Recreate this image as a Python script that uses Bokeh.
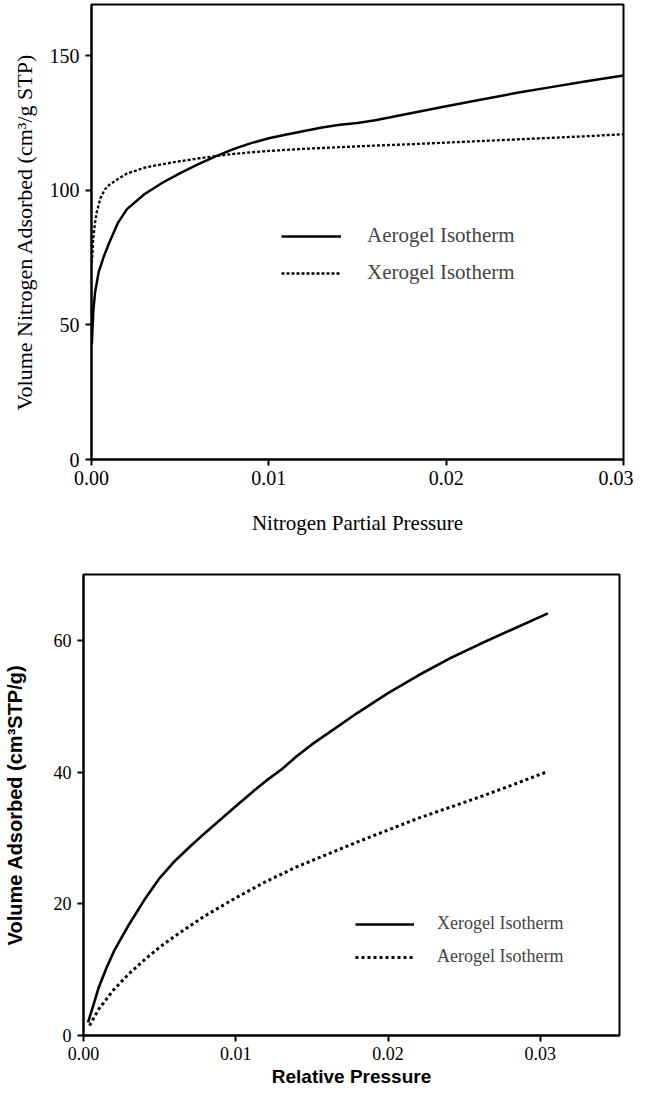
from bokeh.plotting import figure
from bokeh.models import Range1d, FixedTicker, PrintfTickFormatter, Legend, LegendItem, Title
from bokeh.embed import file_html
from bokeh.resources import INLINE

# ---------------- Top chart data ----------------
top_aerogel_p = [0.00002, 0.0001, 0.0002, 0.0004, 0.0007, 0.001, 0.0015, 0.002, 0.003,
                 0.004, 0.005, 0.006, 0.007, 0.008, 0.009, 0.010, 0.011, 0.012, 0.013,
                 0.014, 0.015, 0.016, 0.018, 0.020, 0.022, 0.024, 0.026, 0.028, 0.030]
top_aerogel_v = [43, 55, 62, 69.5, 75.5, 80.5, 88, 93, 98.6,
                 102.8, 106.4, 109.6, 112.6, 115.3, 117.5, 119.3, 120.7, 122.0, 123.3,
                 124.3, 125.0, 126.0, 128.6, 131.2, 133.7, 136.2, 138.4, 140.6, 142.6]
top_xerogel_p = [0.00002, 0.0001, 0.0002, 0.0003, 0.0005, 0.00075, 0.001, 0.0015, 0.002,
                 0.003, 0.004, 0.005, 0.006, 0.007, 0.008, 0.009, 0.010, 0.012, 0.014,
                 0.016, 0.018, 0.020, 0.022, 0.024, 0.026, 0.028, 0.030]
top_xerogel_v = [73, 82, 88, 92, 97, 100.3, 102, 104.2, 106.2,
                 108.4, 109.7, 110.8, 111.8, 112.7, 113.5, 114.1, 114.6, 115.4, 116.0,
                 116.6, 117.1, 117.7, 118.3, 118.9, 119.5, 120.1, 120.8]
top_x_ticks = [0.0, 0.01, 0.02, 0.03]
top_y_ticks = [0, 50, 100, 150]
top_labels = ["Aerogel Isotherm", "Xerogel Isotherm"]
top_x_title = "Nitrogen Partial Pressure"
top_y_title = "Volume Nitrogen Adsorbed (cm³/g STP)"

# ---------------- Bottom chart data ----------------
bot_xerogel_p = [0.0003, 0.0007, 0.001, 0.0015, 0.002, 0.003, 0.004, 0.005, 0.006, 0.007,
                 0.008, 0.009, 0.010, 0.011, 0.012, 0.013, 0.014, 0.015, 0.016, 0.018,
                 0.020, 0.022, 0.024, 0.026, 0.028, 0.0305]
bot_xerogel_v = [2.0, 5.0, 7.3, 10.2, 12.8, 16.9, 20.6, 23.9, 26.5, 28.7,
                 30.8, 32.8, 34.8, 36.8, 38.7, 40.4, 42.4, 44.2, 45.8, 49.0,
                 52.0, 54.7, 57.2, 59.4, 61.5, 64.1]
bot_aerogel_p = [0.0004, 0.001, 0.002, 0.003, 0.004, 0.005, 0.006, 0.008, 0.010, 0.012,
                 0.014, 0.016, 0.018, 0.020, 0.022, 0.024, 0.026, 0.028, 0.0305]
bot_aerogel_v = [1.5, 4.0, 7.0, 9.4, 11.5, 13.4, 15.1, 18.2, 20.9, 23.4,
                 25.6, 27.5, 29.4, 31.2, 33.0, 34.6, 36.2, 37.9, 40.1]
bot_x_ticks = [0.0, 0.01, 0.02, 0.03]
bot_y_ticks = [0, 20, 40, 60]
bot_labels = ["Xerogel Isotherm", "Aerogel Isotherm"]
bot_x_title = "Relative Pressure"
bot_y_title = "Volume Adsorbed (cm³STP/g)"

SERIF = "Liberation Serif"
SANS = "Liberation Sans"


def style_axes(p, tick_size, label_font, label_size, label_style):
    for ax in (p.xaxis[0], p.yaxis[0]):
        ax.axis_line_width = 2
        ax.axis_line_color = "black"
        ax.major_tick_line_width = 2
        ax.major_tick_line_color = "black"
        ax.major_tick_out = 6
        ax.major_tick_in = 0
        ax.minor_tick_line_color = None
        ax.major_label_text_font = SERIF
        ax.major_label_text_font_size = tick_size
        ax.major_label_text_color = "black"
        ax.axis_label_text_font = label_font
        ax.axis_label_text_font_size = label_size
        ax.axis_label_text_font_style = label_style
        ax.axis_label_text_color = "black"
    p.grid.visible = False
    p.outline_line_color = "black"
    p.outline_line_width = 2
    p.outline_line_alpha = 1
    p.background_fill_color = "white"
    p.border_fill_color = "white"


# ---------------- Top figure ----------------
p1 = figure(width=633, height=552, output_backend="svg", toolbar_location=None,
            x_range=Range1d(0, 0.03), y_range=Range1d(0, 169),
            min_border_left=87, min_border_right=10, min_border_top=4, min_border_bottom=93,
            x_axis_label=top_x_title)
style_axes(p1, "20px", SERIF, "21px", "normal")
p1.xaxis.ticker = FixedTicker(ticks=top_x_ticks)
p1.xaxis.formatter = PrintfTickFormatter(format="%.2f")
p1.yaxis.ticker = FixedTicker(ticks=top_y_ticks)
p1.xaxis.major_label_standoff = 5
p1.xaxis.axis_label_standoff = 23
p1.yaxis.major_label_standoff = 6

# y-axis title placed on the left, shifted upward like the original
ytitle = Title(text=top_y_title, align="center", offset=31, standoff=19,
               text_font=SERIF, text_font_size="22px", text_font_style="normal",
               text_color="black")
p1.add_layout(ytitle, "left")

a1 = p1.line(top_aerogel_p, top_aerogel_v, line_color="black", line_width=2.5)
x1 = p1.line(top_xerogel_p, top_xerogel_v, line_color="black", line_width=2.3, line_dash="3 2")
leg1 = Legend(items=[LegendItem(label=top_labels[0], renderers=[a1]),
                     LegendItem(label=top_labels[1], renderers=[x1])],
              location=(190, 174), padding=0, margin=0, spacing=12,
              glyph_width=60, glyph_height=20, label_height=20, label_standoff=26,
              label_text_font=SERIF, label_text_font_size="21px",
              border_line_color=None, background_fill_alpha=0)
p1.add_layout(leg1)

# ---------------- Bottom figure ----------------
p2 = figure(width=633, height=538, output_backend="svg", toolbar_location=None,
            x_range=Range1d(0, 0.0352), y_range=Range1d(0, 70),
            min_border_left=80, min_border_right=14, min_border_top=22, min_border_bottom=55,
            x_axis_label=bot_x_title, y_axis_label=bot_y_title)
style_axes(p2, "18px", SANS, "19px", "bold")
p2.yaxis.axis_label_text_font_size = "20px"
p2.xaxis.ticker = FixedTicker(ticks=bot_x_ticks)
p2.xaxis.formatter = PrintfTickFormatter(format="%.2f")
p2.yaxis.ticker = FixedTicker(ticks=bot_y_ticks)
p2.xaxis.major_label_standoff = 5
p2.xaxis.axis_label_standoff = 3
p2.yaxis.major_label_standoff = 6
p2.yaxis.axis_label_standoff = 25

bx = p2.line(bot_xerogel_p, bot_xerogel_v, line_color="black", line_width=2.6)
ba = p2.line(bot_aerogel_p, bot_aerogel_v, line_color="black", line_width=3, line_dash="3 3")
leg2 = Legend(items=[LegendItem(label=bot_labels[0], renderers=[bx]),
                     LegendItem(label=bot_labels[1], renderers=[ba])],
              location=(272, 68), padding=0, margin=0, spacing=12,
              glyph_width=59, glyph_height=20, label_height=20, label_standoff=23,
              label_text_font=SERIF, label_text_font_size="18px",
              border_line_color=None, background_fill_alpha=0)
p2.add_layout(leg2)

# two independent roots so the frames are not forced into alignment
open("out.html", "w").write(file_html([p1, p2], INLINE))
